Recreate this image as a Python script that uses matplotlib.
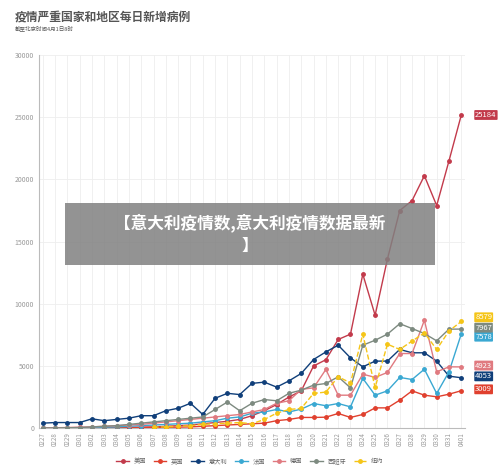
import numpy as np
import matplotlib.pyplot as plt

plt.rcParams['font.family'] = ['Noto Sans CJK SC', 'DejaVu Sans']

dates = ["0227", "0228", "0229"] + [f"03{d:02d}" for d in range(1, 32)] + ["0401"]

us = [0, 5, 10, 15, 20, 30, 40, 50, 80, 100, 150, 200, 250, 350, 450, 550, 700, 1000, 1400, 1900, 2500,
      3000, 5000, 5500, 7130, 7560, 12380, 9080, 13600, 17500, 18300, 20300, 17900, 21500, 25184]
uk = [0, 5, 5, 10, 15, 20, 30, 40, 50, 60, 70, 80, 100, 150, 200, 250, 300, 350, 400, 600, 700,
      860, 860, 880, 1180, 860, 1100, 1630, 1630, 2250, 3000, 2650, 2520, 2730, 3009]
italy = [400, 450, 450, 450, 750, 600, 700, 800, 1000, 1000, 1400, 1600, 2000, 1100, 2400, 2800, 2700,
         3600, 3700, 3300, 3800, 4400, 5520, 6130, 6670, 5650, 4930, 5390, 5390, 6330, 6060, 6060,
         5390, 4180, 4053]
france = [10, 20, 30, 40, 50, 80, 100, 150, 200, 250, 300, 350, 400, 500, 600, 800, 900, 1200, 1300,
          1500, 1300, 1530, 1980, 1800, 1980, 1710, 4000, 2650, 3000, 4080, 3910, 4740, 2790, 4530, 7578]
germany = [20, 30, 50, 80, 100, 150, 200, 250, 300, 400, 500, 600, 700, 800, 900, 1000, 1100, 1300,
           1500, 2000, 2200, 3120, 3240, 4720, 2650, 2650, 4340, 4080, 4480, 6000, 6000, 8680, 4530,
           4930, 4923]
spain = [10, 20, 30, 50, 100, 150, 200, 300, 400, 500, 600, 700, 800, 900, 1500, 2100, 1400, 2000,
         2300, 2200, 2800, 3056, 3460, 3590, 4130, 3240, 6670, 7070, 7560, 8400, 8010, 7610, 7020,
         7960, 7967]
ny = [None] * 9 + [80, 100, 150, 200, 300, 350, 400, 450, 350, 700, 1200, 1500,
                   1590, 2790, 2900, 4130, 3640, 7560, 3270, 6750, 6330, 7000, 7660, 6330, 7820, 8579]

names = ["美国", "英国", "意大利", "法国", "德国", "西班牙", "纽约"]
colors = ["#c23a4b", "#e0402e", "#103f7a", "#3aa8d2", "#e07a80", "#7d8a80", "#f5c518"]
series = [us, uk, italy, france, germany, spain, ny]
# vertical nudge (points) so end labels don't collide
label_dy = [0, 1, 1, -2, 1, 1, 3]

fig = plt.figure(figsize=(5, 4.71), dpi=100)
ax = fig.add_axes([0.078, 0.091, 0.852, 0.792])
x = np.arange(len(dates))
for name, col, vals, dy in zip(names, colors, series, label_dy):
    v = np.array([np.nan if a is None else a for a in vals], dtype=float)
    ls = "--" if name == "纽约" else "-"
    ax.plot(x, v, ls, color=col, lw=1, marker="o", ms=2.5, label=name, zorder=3)
    ax.annotate(f"{int(v[-1])}", (x[-1], v[-1]), xytext=(10, dy), textcoords="offset points",
                color="white", fontsize=5.5, va="center", ha="left", annotation_clip=False,
                bbox=dict(boxstyle="round,pad=0.12", fc=col, ec="none"), zorder=5)

ax.set_xlim(-0.3, len(dates) - 0.7)
ax.set_ylim(0, 30000)
ax.set_yticks(range(0, 30001, 5000))
ax.set_xticks(x)
ax.set_xticklabels(dates, rotation=90, fontsize=4.5, color="#999999")
ax.tick_params(axis="y", labelsize=5, colors="#999999", length=0)
ax.tick_params(axis="x", length=0, pad=3)
ax.grid(True, color="#eeeeee", lw=0.6)
for s in ["top", "right"]:
    ax.spines[s].set_visible(False)
ax.spines["left"].set_color("#bbbbbb")
ax.spines["bottom"].set_color("#bbbbbb")

fig.text(0.03, 0.965, "疫情严重国家和地区每日新增病例", fontsize=8.5, fontweight="bold", color="#555555", va="center")
fig.text(0.03, 0.94, "截至北京时间4月1日8时", fontsize=4, color="#555555", va="center")

fig.legend(loc="lower center", bbox_to_anchor=(0.5, 0.0), ncol=7, fontsize=4.5, frameon=False,
           handlelength=2, columnspacing=1.2, labelcolor="#666666")

fig.patches.append(plt.Rectangle((0.13, 0.437), 0.74, 0.132, transform=fig.transFigure,
                                 fc="#808080", alpha=0.85, zorder=10))
fig.text(0.5, 0.503, "【意大利疫情数,意大利疫情数据最新\n】", fontsize=12, fontweight="bold", color="white",
         ha="center", va="center", zorder=11, linespacing=1.3)

fig.savefig("out.png", dpi=100)
